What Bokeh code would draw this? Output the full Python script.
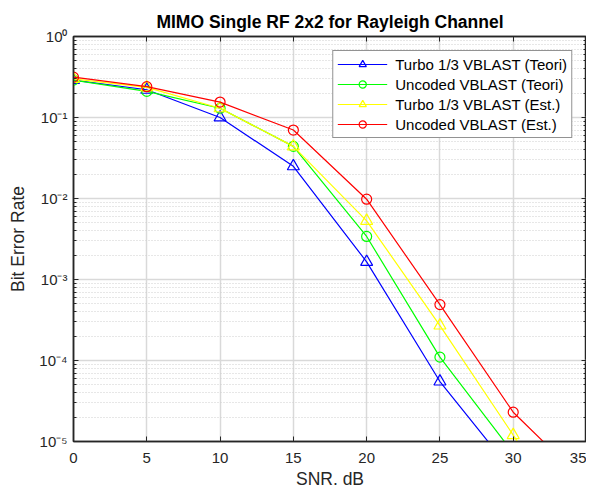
from bokeh.plotting import figure
from bokeh.models import (FixedTicker, CustomJSTickFormatter, Legend, LegendItem,
                          LogAxis, LinearAxis, Range1d)
from bokeh.embed import file_html
from bokeh.resources import INLINE

snr = [0, 5, 10, 15, 20, 25, 30, 35]
turbo_teori = [0.29, 0.22, 0.10, 0.025, 0.00165, 5.5e-5, 4.1e-6, 3.0e-7]
uncoded_teori = [0.29, 0.21, 0.13, 0.044, 0.0034, 1.1e-4, 7.2e-6, 5.0e-7]
turbo_est = [0.30, 0.235, 0.13, 0.044, 0.0053, 2.7e-4, 1.2e-5, 5.0e-7]
uncoded_est = [0.315, 0.24, 0.155, 0.07, 0.0098, 4.9e-4, 2.3e-5, 3.0e-6]

series_names = ["Turbo 1/3 VBLAST (Teori)", "Uncoded VBLAST (Teori)",
                "Turbo 1/3 VBLAST (Est.)", "Uncoded VBLAST (Est.)"]
series_colors = ["#0000ff", "#00ff00", "#ffff00", "#ff0000"]
series_markers = ["triangle", "circle", "triangle", "circle"]
series_values = [turbo_teori, uncoded_teori, turbo_est, uncoded_est]

x_ticks = [0, 5, 10, 15, 20, 25, 30, 35]
y_ticks = [1e-5, 1e-4, 1e-3, 1e-2, 1e-1, 1e0]
y_minor = [m * 10.0 ** e for e in range(-5, 0) for m in range(2, 10)]

FONT = "Liberation Sans"

p = figure(y_axis_type="log",
           x_range=Range1d(0, 35), y_range=Range1d(1e-5, 1),
           output_backend="svg", toolbar_location=None,
           frame_width=513, frame_height=405,
           min_border_left=73, min_border_right=0, min_border_top=36,
           min_border_bottom=20)

p.title.text = "MIMO Single RF 2x2 for Rayleigh Channel"
p.title.align = "center"
p.title.text_font = FONT
p.title.text_font_size = "17.5px"
p.title.text_font_style = "bold"
p.title.text_color = "#000000"
p.title.offset = 0
p.title.standoff = 9

sup = CustomJSTickFormatter(code="""
const e = Math.round(Math.log10(tick));
const m = {'-':'\\u207b','0':'\\u2070','1':'\\u00b9','2':'\\u00b2','3':'\\u00b3','4':'\\u2074','5':'\\u2075','6':'\\u2076','7':'\\u2077','8':'\\u2078','9':'\\u2079'};
return '10' + String(e).split('').map(c => m[c]).join('');
""")

xt = FixedTicker(ticks=x_ticks, minor_ticks=[])
yt = FixedTicker(ticks=y_ticks, minor_ticks=y_minor)

p.xaxis.ticker = xt
p.yaxis.ticker = yt
p.yaxis.formatter = sup

for ax in (p.xaxis, p.yaxis):
    ax.major_tick_in = 5
    ax.major_tick_out = 0
    ax.minor_tick_out = 0
    ax.axis_line_color = "#262626"
    ax.major_tick_line_color = "#262626"
    ax.minor_tick_line_color = "#262626"
    ax.axis_line_width = 1.5
    ax.major_label_text_font = FONT
    ax.major_label_text_font_size = "15px"
    ax.major_label_text_color = "#262626"
    ax.axis_label_text_font = FONT
    ax.axis_label_text_font_size = "17.5px"
    ax.axis_label_text_font_style = "normal"
    ax.axis_label_text_color = "#262626"
p.yaxis.minor_tick_in = 3
p.xaxis.minor_tick_in = 0
p.xaxis.axis_label = "SNR. dB"
p.yaxis.axis_label = "Bit Error Rate"
p.xaxis.major_label_standoff = 11
p.xaxis.axis_label_standoff = 3
p.yaxis.major_label_standoff = 6
p.yaxis.axis_label_standoff = 8

# mirrored axes on top and right (ticks only)
top = LinearAxis(ticker=FixedTicker(ticks=x_ticks, minor_ticks=[]))
right = LogAxis(ticker=FixedTicker(ticks=y_ticks, minor_ticks=y_minor))
for ax in (top, right):
    ax.major_tick_in = 5
    ax.major_tick_out = 0
    ax.minor_tick_out = 0
    ax.axis_line_color = "#262626"
    ax.axis_line_width = 1.5
    ax.major_tick_line_color = "#262626"
    ax.minor_tick_line_color = "#262626"
    ax.major_label_text_font_size = "1px"
    ax.major_label_text_alpha = 0
    ax.major_label_standoff = 0
top.minor_tick_in = 0
right.minor_tick_in = 3
p.add_layout(top, "above")
p.add_layout(right, "right")

p.xgrid.ticker = xt
p.ygrid.ticker = yt
for g in (p.xgrid, p.ygrid):
    g.grid_line_color = "#d9d9d9"
    g.grid_line_width = 1.5
p.ygrid.minor_grid_line_color = "#cfcfcf"
p.ygrid.minor_grid_line_dash = "1 2"
p.ygrid.minor_grid_line_width = 1

p.outline_line_color = "#262626"
p.outline_line_width = 1.5
p.background_fill_color = "white"
p.border_fill_color = "white"

items = []
for name, color, marker, vals in zip(series_names, series_colors, series_markers, series_values):
    ln = p.line(snr, vals, line_color=color, line_width=1.2)
    mk = p.scatter(snr, vals, marker=marker, size=10 if marker == "circle" else 12,
                   line_color=color, fill_color=None, line_width=1.2)
    items.append(LegendItem(label=name, renderers=[ln, mk]))

legend = Legend(items=items, location="top_right")
legend.label_text_font = FONT
legend.label_text_font_size = "15px"
legend.label_text_color = "#000000"
legend.border_line_color = "#262626"
legend.border_line_width = 1
legend.background_fill_alpha = 1
legend.glyph_width = 50
legend.glyph_height = 18
legend.label_height = 18
legend.spacing = 2
legend.padding = 4
legend.margin = 14
legend.label_standoff = 8
p.add_layout(legend, "center")

open("out.html", "w").write(file_html(p, INLINE))
